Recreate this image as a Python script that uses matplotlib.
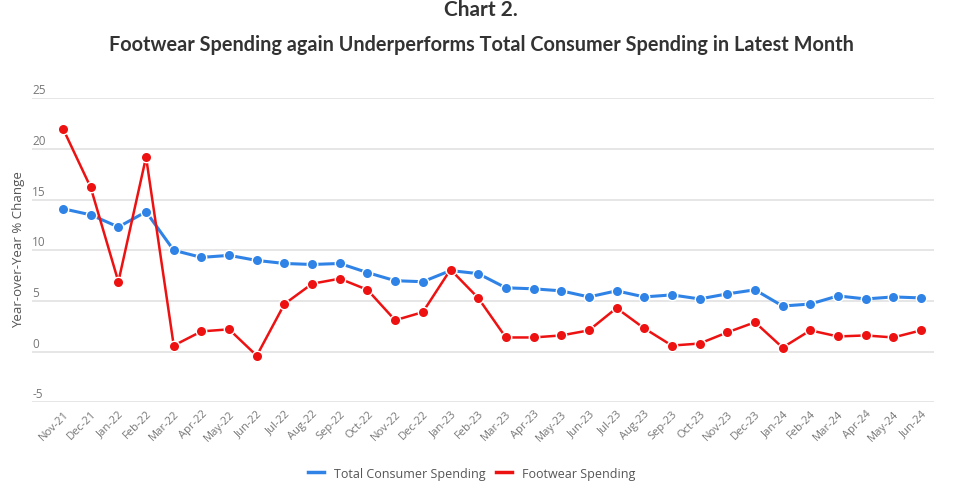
import matplotlib
matplotlib.use("Agg")
import matplotlib.pyplot as plt
import matplotlib.transforms as mtransforms
from matplotlib.lines import Line2D

# data
months = ["Nov-21", "Dec-21", "Jan-22", "Feb-22", "Mar-22", "Apr-22", "May-22", "Jun-22",
          "Jul-22", "Aug-22", "Sep-22", "Oct-22", "Nov-22", "Dec-22", "Jan-23", "Feb-23",
          "Mar-23", "Apr-23", "May-23", "Jun-23", "Jul-23", "Aug-23", "Sep-23", "Oct-23",
          "Nov-23", "Dec-23", "Jan-24", "Feb-24", "Mar-24", "Apr-24", "May-24", "Jun-24"]
total_spending = [14.1, 13.5, 12.3, 13.8, 10.0, 9.3, 9.5, 9.0,
                  8.7, 8.6, 8.7, 7.8, 7.0, 6.9, 8.0, 7.7,
                  6.3, 6.2, 6.0, 5.4, 6.0, 5.4, 5.6, 5.2,
                  5.7, 6.1, 4.5, 4.7, 5.5, 5.2, 5.4, 5.3]
footwear_spending = [22.0, 16.2, 6.9, 19.2, 0.6, 2.0, 2.2, -0.4,
                     4.7, 6.7, 7.2, 6.1, 3.1, 3.9, 8.1, 5.3,
                     1.4, 1.4, 1.6, 2.1, 4.3, 2.3, 0.6, 0.8,
                     1.9, 2.9, 0.4, 2.1, 1.5, 1.6, 1.4, 2.1]
y_ticks = [-5, 0, 5, 10, 15, 20, 25]

blue = "#3083e6"
red = "#ee1111"
tick_col = "#777777"

title_font = ["Lato", "DejaVu Sans"]
body_font = ["Open Sans", "DejaVu Sans"]

fig = plt.figure(figsize=(9.62, 4.89), dpi=100)
ax = fig.add_axes([0.0333, 0.1752, 0.9376, 0.6218])

x = list(range(len(months)))
for v in y_ticks:
    ax.axhline(v, color="#e6e6e6", lw=1.4, zorder=0)

ax.plot(x, total_spending, color=blue, lw=2.2, marker="o", ms=7.5,
        markeredgecolor="white", markeredgewidth=1.0, zorder=3, clip_on=False)
ax.plot(x, footwear_spending, color=red, lw=1.8, marker="o", ms=7.5,
        markeredgecolor="white", markeredgewidth=1.0, zorder=4, clip_on=False)

ax.set_xlim(-1.12, len(months) - 1 + 0.47)
ax.set_ylim(-5, 25)
for s in ax.spines.values():
    s.set_visible(False)

# y labels sit above their gridlines at the left edge
ax.set_yticks([])
trans = mtransforms.blended_transform_factory(ax.transAxes, ax.transData)
for v in y_ticks:
    ax.text(0.0, v + 0.2, str(v), transform=trans, ha="left", va="bottom",
            fontsize=8.5, color=tick_col, family=body_font)

ax.set_xticks(x)
ax.set_xticklabels(months, rotation=45, ha="right", rotation_mode="anchor",
                   fontsize=8, color=tick_col, family=body_font)
ax.tick_params(axis="x", length=0, pad=4)

fig.text(0.019, 0.49, "Year-over-Year % Change", rotation=90, ha="center", va="center",
         fontsize=9.5, color="#555555", family=body_font)

fig.text(0.5, 1.0, "Chart 2.", ha="center", va="top", fontsize=15,
         fontweight="bold", color="#333333", family=title_font)
fig.text(0.5, 0.908, "Footwear Spending again Underperforms Total Consumer Spending in Latest Month",
         ha="center", va="center", fontsize=14.3, fontweight="bold", color="#333333",
         family=title_font)

handles = [Line2D([0], [0], color=blue, lw=2.5), Line2D([0], [0], color=red, lw=2.5)]
fig.legend(handles, ["Total Consumer Spending", "Footwear Spending"], loc="center",
           bbox_to_anchor=(0.49, 0.03), ncol=2, frameon=False, handlelength=1.3,
           columnspacing=0.8, handletextpad=0.8, prop={"family": body_font, "size": 9},
           labelcolor="#555555")

fig.savefig("out.png", dpi=100, facecolor="white")
